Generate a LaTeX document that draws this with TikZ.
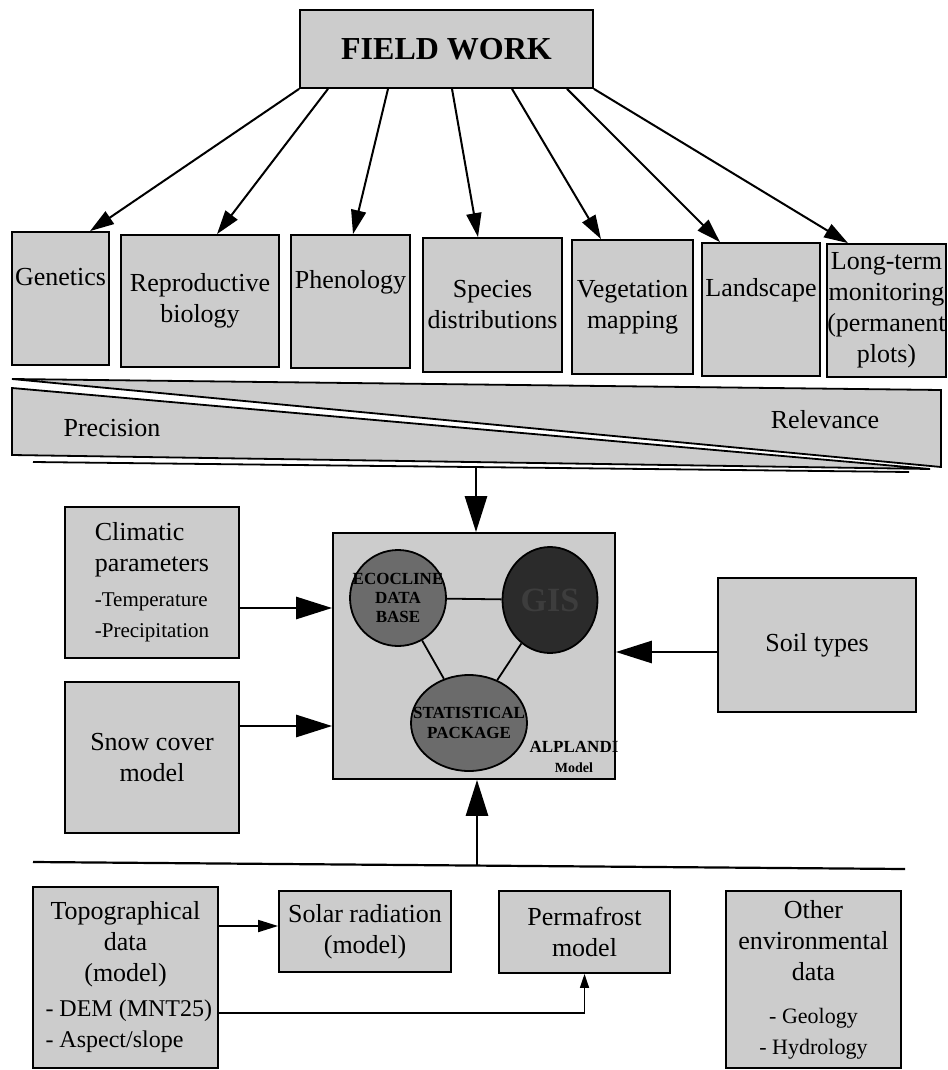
\documentclass[tikz,border=0pt]{standalone}
\usepackage{fontspec}
\setmainfont{Liberation Serif}
\usetikzlibrary{arrows.meta,shapes.geometric}
\definecolor{boxgray}{gray}{0.80}
\definecolor{circgray}{gray}{0.42}
\definecolor{gisgray}{gray}{0.17}
\tikzset{
	box/.style={rectangle, draw=black, line width=0.9pt, fill=boxgray, inner sep=1pt, align=center, font=\fontsize{13}{15.5}\selectfont},
	hightext/.style={text depth=22pt},
	arr/.style={line width=1pt, -{Triangle[length=12pt,width=7.5pt]}},
	bigarr/.style={line width=1.4pt, -{Triangle[length=18pt,width=11pt]}},
	smallarr/.style={line width=0.9pt, -{Triangle[length=10pt,width=6pt]}},
	tinyarr/.style={line width=0.8pt, -{Triangle[length=7pt,width=4.5pt]}},
	blob/.style={draw=black, line width=0.9pt, inner sep=0pt}
}
\begin{document}
\begin{tikzpicture}[x=0.5pt, y=-0.5pt]
	\useasboundingbox (0,0) rectangle (947,1070);
	% field work
	\node (fw) at (446.5,49)	[box, minimum width=146.5pt, minimum height=39pt, font=\bfseries\fontsize{16}{18}\selectfont]	{FIELD WORK};
	\node (gen) at (60.5,298.5)	[box, hightext, minimum width=48.5pt, minimum height=66.5pt]	{Genetics};
	\node (rep) at (200,301)	[box, minimum width=79pt, minimum height=66pt]	{Reproductive\\biology};
	\node (phe) at (350.5,301.5)	[box, hightext, minimum width=59.5pt, minimum height=66.5pt]	{Phenology};
	\node (spe) at (492.5,305)	[box, minimum width=69.5pt, minimum height=67pt]	{Species\\distributions};
	\node (veg) at (632.5,307)	[box, minimum width=60.5pt, minimum height=67pt]	{Vegetation\\mapping};
	\node (lan) at (761,309.5)	[box, hightext, minimum width=59pt, minimum height=66.5pt]	{Landscape};
	\node (lon) at (886.5,310.5)	[box, inner xsep=0pt, minimum width=58.5pt, minimum height=66.5pt]	{Long-term\\monitoring\\(permanent\\plots)};
	\draw[arr] (fw.south west) -- ([xshift=14.75pt]gen.north);
	\draw[arr] ([xshift=-59.25pt]fw.south) -- ([xshift=8.5pt]rep.north);
	\draw[arr] ([xshift=-29.25pt]fw.south) -- ([xshift=1.25pt]phe.north);
	\draw[arr] ([xshift=2.75pt]fw.south) -- ([xshift=-7.25pt]spe.north);
	\draw[arr] ([xshift=32.75pt]fw.south) -- ([xshift=-15.75pt]veg.north);
	\draw[arr] ([xshift=60.25pt]fw.south) -- ([xshift=-20.5pt]lan.north);
	\draw[arr] (fw.south east) -- ([xshift=-19.25pt]lon.north);
	% precision / relevance wedge
	\filldraw[fill=boxgray, line width=0.9pt] (12,379) -- (941,390) -- (941,467) -- cycle;
	\filldraw[fill=boxgray, line width=0.9pt] (12,388) -- (930,469) -- (12,455) -- cycle;
	\draw[line width=0.9pt] (33,462) -- (909,472);
	\node (pre) at (112,428)	[font=\fontsize{13}{15.5}\selectfont]	{Precision};
	\node (rel) at (825,420)	[font=\fontsize{13}{15.5}\selectfont]	{Relevance};
	% model
	\node (alp) at (474,656)	[box, minimum width=141pt, minimum height=123pt]	{};
	\node (eco) at (398,598)	[blob, circle, fill=circgray, minimum size=48pt, label={[align=center, font=\bfseries\fontsize{8.5}{9.5}\selectfont]center:ECOCLINE\\DATA\\BASE}]	{};
	\node (gis) at (550,600)	[blob, ellipse, fill=gisgray, minimum width=47.5pt, minimum height=53pt, text=black!76, font=\bfseries\fontsize{17}{19}\selectfont]	{GIS};
	\node (sta) at (469,723)	[blob, ellipse, fill=circgray, minimum width=58pt, minimum height=48pt, label={[align=center, font=\bfseries\fontsize{8.5}{10}\selectfont]center:STATISTICAL\\PACKAGE}]	{};
	\node (alpname) at (574,757)	[align=center, inner sep=0pt, font=\bfseries\fontsize{8.5}{10}\selectfont]	{ALPLANDI\\{\fontsize{7}{8}\selectfont Model}};
	\draw[line width=0.9pt] (eco) -- (gis);
	\draw[line width=0.9pt] (eco) -- (sta);
	\draw[line width=0.9pt] (gis) -- (sta);
	\coordinate (wout) at (476,468);
	\draw[bigarr] (wout) -- (wout |- alp.north);
	% side inputs
	\node (cli) at (152,582.5)	[box, align=left, minimum width=87pt, minimum height=75.5pt]	{Climatic\\parameters\\[2pt]\fontsize{10.5}{14}\selectfont -Temperature\\\fontsize{10.5}{14}\selectfont -Precipitation};
	\node (sno) at (152,757.5)	[box, minimum width=87pt, minimum height=75.5pt]	{Snow cover\\model};
	\node (soi) at (817,645)	[box, minimum width=99pt, minimum height=67pt]	{Soil types};
	\coordinate (cliout) at ([yshift=-12.75pt]cli.east);
	\coordinate (snoout) at ([yshift=15.75pt]sno.east);
	\coordinate (soiout) at ([yshift=-3.5pt]soi.west);
	\draw[bigarr] (cliout) -- (cliout -| alp.west);
	\draw[bigarr] (snoout) -- (snoout -| alp.west);
	\draw[bigarr] (soiout) -- (soiout -| alp.east);
	% environmental data
	\draw[line width=1.1pt] (33,862) -- (905,869);
	\coordinate (bus) at (477,865.6);
	\draw[bigarr] (bus) -- (bus |- alp.south);
	\node (topo) at (125.5,977.5)	[box, minimum width=92.5pt, minimum height=90.5pt]	{Topographical\\data\\(model)\\[2pt]\makebox[80pt][l]{\fontsize{12}{14}\selectfont - DEM (MNT25)}\\\makebox[80pt][l]{\fontsize{12}{14}\selectfont - Aspect/slope}};
	\node (sol) at (365,931.5)	[box, minimum width=86pt, minimum height=40.5pt]	{Solar radiation\\(model)};
	\node (per) at (584.5,932)	[box, minimum width=85.5pt, minimum height=41pt]	{Permafrost\\model};
	\node (oth) at (813.5,979.5)	[box, minimum width=87.5pt, minimum height=88.5pt]	{Other\\environmental\\data\\[6pt]\fontsize{11}{13}\selectfont - Geology\\\fontsize{11}{13}\selectfont - Hydrology};
	\coordinate (topoA) at ([yshift=25.75pt]topo.east);
	\coordinate (topoB) at ([yshift=-17.75pt]topo.east);
	\draw[smallarr] (topoA) -- (topoA -| sol.west);
	\draw[tinyarr] (topoB) -| (per.south);
\end{tikzpicture}
\end{document}
